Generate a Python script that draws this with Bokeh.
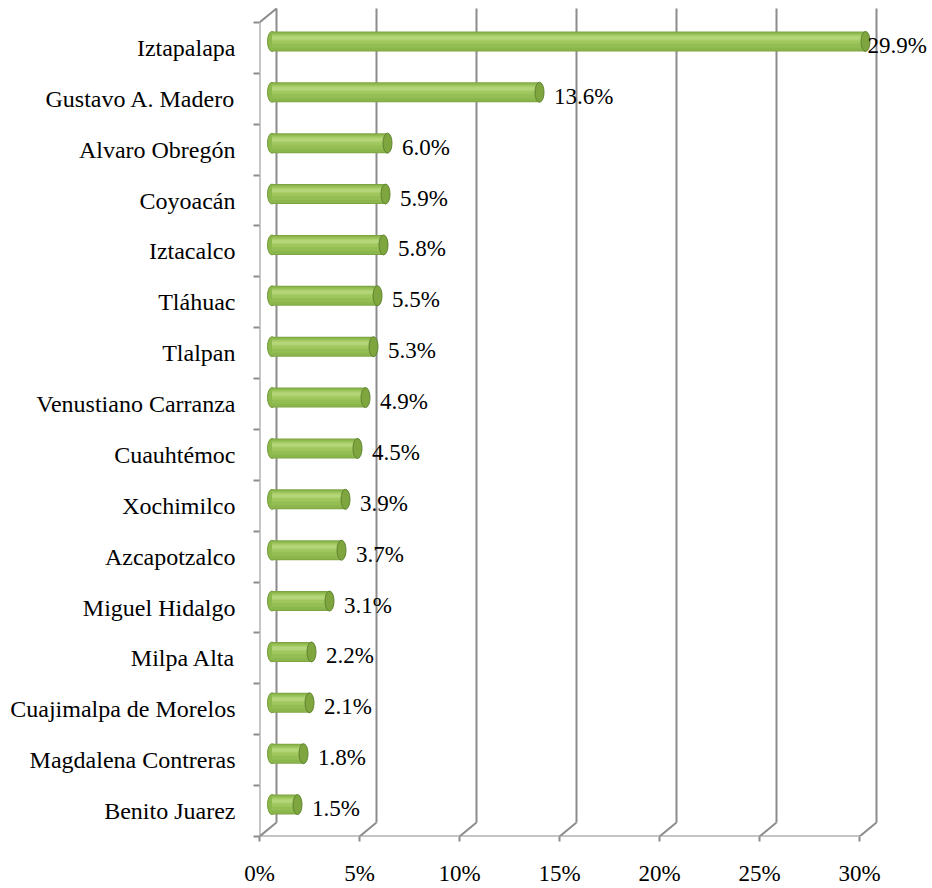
from bokeh.plotting import figure
from bokeh.models import Range1d, FixedTicker, ColumnDataSource
from bokeh.core.properties import value
from bokeh.embed import file_html
from bokeh.resources import INLINE

# ---------------- data ----------------
categories = ["Iztapalapa", "Gustavo A. Madero", "Alvaro Obregón", "Coyoacán",
              "Iztacalco", "Tláhuac", "Tlalpan", "Venustiano Carranza",
              "Cuauhtémoc", "Xochimilco", "Azcapotzalco", "Miguel Hidalgo",
              "Milpa Alta", "Cuajimalpa de Morelos", "Magdalena Contreras",
              "Benito Juarez"]
values = [29.9, 13.6, 6.0, 5.9, 5.8, 5.5, 5.3, 4.9, 4.5, 3.9, 3.7, 3.1,
          2.2, 2.1, 1.8, 1.5]
x_ticks = [0, 5, 10, 15, 20, 25, 30]
x_tick_labels = ["0%", "5%", "10%", "15%", "20%", "25%", "30%"]

# ---------------- geometry (pixels -> data) ----------------
W, H = 932, 888
LEFT = 259            # px of the front 0% line
FRONT_BOTTOM = 837    # px of the front floor edge
FRONT_TOP = 22
PX = 20.0             # px per percent
N = len(categories)
B = (FRONT_BOTTOM - FRONT_TOP) / N   # px per category band
DX = 17 / PX          # 3D depth offset (x)
DY = 14 / B           # 3D depth offset (y)
Y1 = FRONT_BOTTOM / B
X1 = (W - LEFT) / PX

GRID = "#8C8C8C"
FONT = "Liberation Serif"

p = figure(width=W, height=H, x_range=Range1d(0, X1), y_range=Range1d(0, Y1),
           output_backend="svg", toolbar_location=None,
           min_border_left=LEFT, min_border_right=0, min_border_top=0,
           min_border_bottom=H - FRONT_BOTTOM, background_fill_color="white",
           border_fill_color="white", outline_line_color=None)
p.grid.visible = False

# ---------------- 3D walls / gridlines ----------------
xmax = x_ticks[-1]
p.segment(x0=[t + DX for t in x_ticks], y0=[DY] * len(x_ticks),
          x1=[t + DX for t in x_ticks], y1=[N + DY] * len(x_ticks),
          line_color=GRID, line_width=2)
p.segment(x0=x_ticks, y0=[0] * len(x_ticks),
          x1=[t + DX for t in x_ticks], y1=[DY] * len(x_ticks),
          line_color=GRID, line_width=2)
p.line([0, xmax], [0, 0], line_color=GRID, line_width=2)
p.line([0, 0, DX], [0, N, N + DY], line_color=GRID, line_width=2)

# ---------------- cylinders ----------------
idx = [N - 1 - k for k in range(N)]
yc = [i + 0.5 + 6.5 / B for i in idx]
hb = 20 / B
xl = 8 / PX + 4.5 / PX                 # center of left cap
right = [v + 8 / PX for v in values]   # center of right cap
cap_w = 9 / PX

src = ColumnDataSource(dict(y=yc, right=right, v=values))

p.ellipse(x=xl, y="y", width=cap_w, height=hb, source=src,
          fill_color="#8DB84C", line_color="#739A3A", line_width=1)
layers = [  # (top px from bar top, bottom px, color)
    (0, 20, "#7FA343"),
    (1, 19, "#8BB64C"),
    (2, 16, "#94BE54"),
    (3, 12, "#9FC75E"),
    (4, 9, "#ABCF6C"),
    (5, 8, "#B4D578"),
]
for t0, t1, col in layers:
    off = (10 - (t0 + t1) / 2) / B
    p.hbar(y=[y + off for y in yc], left=xl, right=right,
           height=(t1 - t0) / B, fill_color=col, line_color=None)
p.ellipse(x="right", y="y", width=cap_w, height=hb, source=src,
          fill_color="#7EA53E", line_color="#5E8430", line_width=1)

# ---------------- value labels ----------------
lab_x = [min(v + 8 / PX + 4.5 / PX + 10 / PX, 30.4) for v in values]
lab_y = [y - 4 / B for y in yc]
p.text(x=lab_x, y=lab_y, text=[f"{v:.1f}%" for v in values],
       text_font=value(FONT), text_font_size="23px", text_color="black",
       text_align="left", text_baseline="middle")

# ---------------- axes ----------------
xa = p.xaxis[0]
xa.ticker = FixedTicker(ticks=x_ticks, minor_ticks=[])
xa.major_label_overrides = {t: s for t, s in zip(x_ticks, x_tick_labels)}
xa.axis_line_color = None
xa.major_tick_line_color = GRID
xa.major_tick_line_width = 2
xa.major_tick_in = 0
xa.major_tick_out = 5
xa.minor_tick_line_color = None
xa.major_label_standoff = 19
xa.major_label_text_font = FONT
xa.major_label_text_font_size = "23px"
xa.major_label_text_color = "black"

ya = p.yaxis[0]
ya.ticker = FixedTicker(ticks=[i + 0.5 for i in range(N)],
                        minor_ticks=list(range(N + 1)))
ya.major_label_overrides = {i + 0.5: categories[N - 1 - i] for i in range(N)}
ya.axis_line_color = None
ya.major_tick_line_color = None
ya.major_tick_in = 0
ya.major_tick_out = 0
ya.minor_tick_line_color = GRID
ya.minor_tick_line_width = 2
ya.minor_tick_in = 0
ya.minor_tick_out = 6
ya.major_label_standoff = 18
ya.major_label_text_font = FONT
ya.major_label_text_font_size = "24px"
ya.major_label_text_color = "black"

open("out.html", "w").write(file_html(p, INLINE))
